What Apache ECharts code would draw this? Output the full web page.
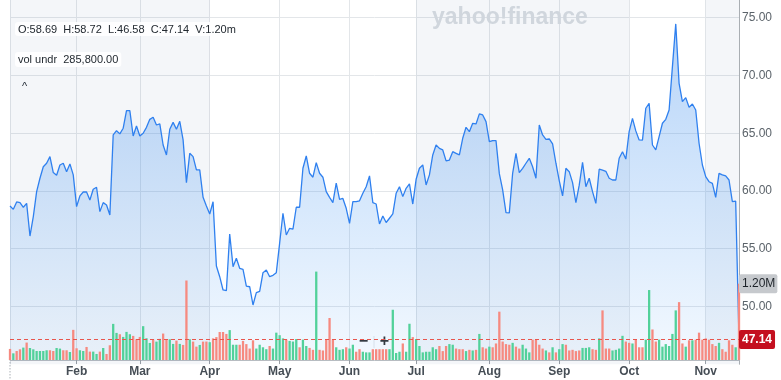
<!DOCTYPE html>
<html><head><meta charset="utf-8">
<script src="https://cdn.jsdelivr.net/npm/echarts@6/dist/echarts.min.js"></script>
<style>html,body{margin:0;padding:0;background:#fff}#c{width:781px;height:380px}</style>
</head><body><div id="c"></div>
<script>
// ---------------- data ----------------
const months = ['Jan','Feb','Mar','Apr','May','Jun','Jul','Aug','Sep','Oct','Nov'];
const tradingDaysPerMonth = [20,19,21,21,21,20,22,21,21,23,11];

const closeJan = [58.70,58.41,59.05,58.99,58.59,58.93,56.10,57.78,59.94,61.10,62.10,62.40,62.97,61.59,61.36,62.25,62.40,61.67,62.34,61.39];
const closeFeb = [58.64,59.57,59.91,59.91,59.22,60.15,60.32,58.21,58.99,58.79,57.92,64.85,65.22,64.94,65.43,66.95,66.95,64.76,65.63];
const closeMar = [64.76,65.00,65.51,66.20,66.38,65.71,65.80,63.98,63.12,65.34,65.94,65.34,66.03,64.42,60.72,63.26,62.97,61.82,61.82,59.45,58.70];
const closeApr = [58.01,59.07,53.51,52.58,51.43,51.37,56.28,53.45,54.17,53.31,53.22,51.77,51.71,50.13,51.20,51.30,52.93,53.16,52.58,52.70,52.93];
const closeMay = [55.47,58.07,56.19,56.77,56.70,58.59,58.59,61.97,63.03,61.53,61.19,62.45,61.53,61.19,59.94,59.45,58.99,60.67,59.28,59.35,58.50];
const closeJun = [57.20,59.07,59.07,59.15,59.80,60.37,61.30,58.99,58.87,57.14,57.84,57.27,57.64,58.01,59.80,60.37,59.51,60.23,60.61,58.87];
const closeJul = [61.01,61.97,62.25,60.52,61.39,63.12,63.98,63.69,63.55,62.60,62.68,63.40,63.26,63.12,64.56,65.51,65.13,65.86,65.80,66.67,66.58,66.00];
const closeAug = [64.27,64.36,64.36,61.50,60.09,58.12,58.10,61.53,63.26,61.59,61.96,62.40,62.83,62.10,61.10,65.71,64.85,64.47,64.50,64.07,62.40];
const closeSep = [60.90,59.57,61.96,61.67,60.72,58.99,60.50,62.48,60.37,61.10,59.94,58.93,61.88,61.80,61.70,61.10,60.95,60.95,62.83,63.40,62.76];
const closeOct = [65.13,66.29,65.20,64.42,64.40,67.16,67.59,63.98,63.55,64.70,65.86,66.20,67.01,70.76,74.46,69.32,67.73,68.08,67.25,67.53,67.01,64.13,62.25];
const closeNov = [61.24,60.80,60.66,59.45,61.53,61.39,61.30,60.95,59.07,59.13,47.14];

// volume in millions
const volJan = [0.174,0.105,0.142,0.168,0.195,0.274,0.189,0.168,0.142,0.142,0.142,0.153,0.153,0.142,0.189,0.179,0.153,0.153,0.126,0.474];
const volFeb = [0.184,0.153,0.142,0.205,0.132,0.132,0.095,0.132,0.189,0.095,0.232,0.568,0.426,0.405,0.363,0.442,0.405,0.379,0.326];
const volMar = [0.363,0.532,0.342,0.268,0.321,0.289,0.332,0.416,0.326,0.326,0.253,0.305,0.253,0.237,1.25,0.326,0.289,0.21,0.237,0.289,0.29];
const volApr = [0.28,0.34,0.36,0.44,0.44,0.41,0.47,0.24,0.24,0.24,0.30,0.25,0.18,0.31,0.18,0.24,0.20,0.17,0.22,0.18,0.43];
const volMay = [0.39,0.34,0.32,0.30,0.29,0.33,0.20,0.32,0.22,0.19,0.16,1.39,0.16,0.15,0.33,0.66,0.32,0.20,0.16,0.17,0.20];
const volJun = [0.18,0.24,0.13,0.17,0.13,0.12,0.12,0.17,0.17,0.17,0.17,0.17,0.17,0.79,0.11,0.13,0.26,0.13,0.57,0.36];
const volJul = [0.33,0.22,0.12,0.13,0.13,0.20,0.17,0.22,0.14,0.22,0.25,0.24,0.18,0.17,0.17,0.14,0.16,0.15,0.16,0.41,0.20,0.18];
const volAug = [0.21,0.20,0.26,0.76,0.29,0.25,0.24,0.27,0.21,0.18,0.24,0.18,0.12,0.32,0.32,0.24,0.18,0.15,0.12,0.20,0.12];
const volSep = [0.17,0.25,0.24,0.15,0.16,0.14,0.15,0.19,0.19,0.20,0.17,0.16,0.34,0.78,0.18,0.18,0.15,0.16,0.18,0.38,0.29];
const volOct = [0.27,0.26,0.33,0.20,0.20,0.32,1.10,0.48,0.29,0.32,0.21,0.25,0.22,0.41,0.78,0.91,0.26,0.21,0.31,0.31,0.32,0.43,0.32];
const volNov = [0.34,0.32,0.25,0.22,0.27,0.17,0.13,0.31,0.24,0.20,1.20];

// 1 = up day (green), 0 = down day (red)
const upJan = [0,1,0,0,1,0,1,1,1,1,1,1,0,0,1,1,0,0,1,0];
const upFeb = [0,1,1,0,0,1,1,0,1,0,0,1,1,0,1,1,1,0,0];
const upMar = [0,1,1,1,0,1,1,0,0,1,1,0,1,0,0,1,0,0,1,0,0];
const upApr = [1,0,0,0,0,0,1,1,1,0,0,0,0,0,1,1,1,1,0,1,1];
const upMay = [1,1,0,1,1,1,0,1,1,0,0,1,0,0,0,0,0,1,1,1,0];
const upJun = [1,1,0,0,1,1,1,0,0,0,0,0,1,1,1,1,0,1,1,0];
const upJul = [1,1,1,1,1,1,1,0,0,0,1,1,0,0,0,1,0,1,0,1,0,0];
const upAug = [1,0,0,0,0,0,0,1,0,0,1,1,1,0,0,0,0,1,0,1,0];
const upSep = [1,1,0,0,0,0,0,1,1,1,0,0,1,0,0,0,1,1,1,1,0];
const upOct = [0,1,0,0,0,1,1,0,0,1,1,1,1,1,1,0,0,1,0,1,0,0,0];
const upNov = [0,0,0,0,1,0,0,0,0,1,0];

const priceTicks = [50,55,60,65,70,75];
const lastClose = 47.14;
const lastVolumeM = 1.20;
const ohlcText = 'O:58.69  H:58.72  L:46.58  C:47.14  V:1.20m';
const studyText = 'vol undr  285,800.00';
const shadedRanges = [['Jan','Apr'],['Jul','Oct'],['Nov',null]];

// ---------------- build ----------------
const closePrices = [].concat(closeJan,closeFeb,closeMar,closeApr,closeMay,closeJun,closeJul,closeAug,closeSep,closeOct,closeNov);
const volumes = [].concat(volJan,volFeb,volMar,volApr,volMay,volJun,volJul,volAug,volSep,volOct,volNov);
const upDays = [].concat(upJan,upFeb,upMar,upApr,upMay,upJun,upJul,upAug,upSep,upOct,upNov);

const categories = [];
const monthStart = {};
months.forEach((m, mi) => {
  for (let d = 1; d <= tradingDaysPerMonth[mi]; d++) {
    if (d === 1) monthStart[categories.length] = m;
    categories.push(m + '-' + d);
  }
});
const isMonthStart = i => monthStart[i] !== undefined;
const lastCat = categories[categories.length - 1];

const GREEN = '#52d19a', RED = '#f68a80';
const FONT = '"Liberation Sans", Arial, Helvetica, sans-serif';

const tickStep = priceTicks[1] - priceTicks[0];
const pMin = priceTicks[0] - tickStep;     // 45, lies just below the bottom axis
const pMax = 76.53;                         // value at the top edge of the plot

const chart = echarts.init(document.getElementById('c'), null, {renderer: 'canvas'});
chart.setOption({
  animation: false,
  backgroundColor: '#ffffff',
  grid: [
    {left: 10, right: 42, top: 0, bottom: 15.74},
    {left: 10, right: 42, top: 42, bottom: 20}
  ],
  xAxis: [
    {type: 'category', gridIndex: 0, data: categories, boundaryGap: false,
     axisLine: {show: false}, axisTick: {show: false}, axisLabel: {show: false},
     splitLine: {show: true, interval: (i) => isMonthStart(i), lineStyle: {color: '#e3e6e9', width: 1}}},
    {type: 'category', gridIndex: 1, data: categories, boundaryGap: false,
     axisLine: {show: true, lineStyle: {color: '#b7bcc1'}},
     axisTick: {show: true, interval: (i) => i > 0 && isMonthStart(i), length: 4, lineStyle: {color: '#9aa0a6'}},
     axisLabel: {interval: (i) => i > 0 && isMonthStart(i), formatter: (v) => v.split('-')[0],
       color: '#464e56', fontSize: 12, fontWeight: 'bold', fontFamily: FONT, margin: 6},
     splitLine: {show: false}}
  ],
  yAxis: [
    {type: 'value', gridIndex: 0, position: 'right', min: pMin, max: pMax, interval: tickStep,
     axisLine: {show: true, lineStyle: {color: '#a9aeb3'}}, axisTick: {show: false},
     axisLabel: {formatter: (v) => v.toFixed(2), color: '#5b636a', fontSize: 12, fontFamily: FONT, margin: 3,
       showMinLabel: false, showMaxLabel: false},
     splitLine: {show: true, showMinLine: false, showMaxLine: false, lineStyle: {color: '#e3e6e9', width: 1}}},
    {type: 'value', gridIndex: 1, min: 0, max: 5, show: false}
  ],
  graphic: [
    {type: 'text', left: 432, top: 6, z: 1, silent: true,
     style: {text: 'yahoo!finance', font: 'bold 23px ' + FONT, fill: '#dadee2'}},
    {type: 'text', left: 15, top: 22, z: 10,
     style: {text: ohlcText, font: '11px ' + FONT, fill: '#232a31',
       backgroundColor: 'rgba(255,255,255,0.88)', padding: [2, 3, 1, 3], borderRadius: 3}},
    {type: 'text', left: 15, top: 52, z: 10,
     style: {text: studyText, font: '11px ' + FONT, fill: '#232a31',
       backgroundColor: 'rgba(255,255,255,0.88)', padding: [2, 3, 2, 3], borderRadius: 3}},
    {type: 'group', left: 15, top: 76, z: 10, children: [
      {type: 'rect', shape: {x: 0, y: 0, width: 19, height: 20, r: 3}, style: {fill: 'rgba(255,255,255,0.88)'}},
      {type: 'text', x: 9.5, y: 11, style: {text: '^', font: '11px ' + FONT, fill: '#232a31', align: 'center', verticalAlign: 'middle'}}
    ]},
    {type: 'group', left: 353, top: 333, z: 10, children: [
      {type: 'rect', shape: {x: 0, y: 0, width: 42, height: 18, r: 3}, style: {fill: 'rgba(255,255,255,0.85)'}},
      {type: 'line', shape: {x1: 21, y1: 3, x2: 21, y2: 15}, style: {stroke: '#e3e6e9'}},
      {type: 'text', x: 10.5, y: 9, style: {text: '\u2212', font: 'bold 16px ' + FONT, fill: '#333', align: 'center', verticalAlign: 'middle'}},
      {type: 'text', x: 31.5, y: 9, style: {text: '+', font: 'bold 16px ' + FONT, fill: '#333', align: 'center', verticalAlign: 'middle'}}
    ]},
    {type: 'line', z: 10, shape: {x1: 10, y1: 362, x2: 10, y2: 379}, style: {stroke: '#aab0b6', lineDash: [1.5, 1.5]}}
  ],
  series: [
    {name: 'price', type: 'line', xAxisIndex: 0, yAxisIndex: 0, data: closePrices, z: 2,
     showSymbol: false, symbol: 'none', silent: true,
     lineStyle: {color: '#2f80ef', width: 1.3},
     areaStyle: {origin: 45.37, color: new echarts.graphic.LinearGradient(0, 0, 0, 1, [
       {offset: 0, color: 'rgba(55,135,235,0.52)'},
       {offset: 1, color: 'rgba(60,150,245,0.09)'}])},
     markArea: {silent: true, itemStyle: {color: 'rgba(40,80,140,0.05)'},
       data: shadedRanges.map(r => [{xAxis: r[0] + '-1'}, {xAxis: r[1] ? r[1] + '-1' : lastCat}])}},
    {name: 'volume', type: 'bar', xAxisIndex: 1, yAxisIndex: 1, z: 3, barWidth: 2.3, silent: true,
     data: volumes.map((v, i) => ({value: v, itemStyle: {color: upDays[i] ? GREEN : RED}})),
     markLine: {silent: true, symbol: ['none', 'none'], lineStyle: {color: 'rgba(0,0,0,0)', width: 1},
       label: {show: true, position: 'end', distance: 0, formatter: lastVolumeM.toFixed(2) + 'M',
         backgroundColor: '#c6c9cd', color: '#1d2228', fontSize: 12, fontFamily: FONT, padding: [4, 2, 3, 3], borderRadius: 2},
       data: [{yAxis: lastVolumeM}]}},
    {name: 'lastClose', type: 'line', xAxisIndex: 0, yAxisIndex: 0, z: 5, data: closePrices,
     showSymbol: false, symbol: 'none', silent: true, lineStyle: {opacity: 0, width: 0},
     markLine: {silent: true, symbol: ['none', 'none'],
       lineStyle: {type: [4, 3], color: '#e8554d', width: 1},
       label: {show: true, position: 'end', distance: 0, formatter: lastClose.toFixed(2),
         backgroundColor: '#c40f1f', color: '#ffffff', fontWeight: 'bold', fontSize: 12, fontFamily: FONT,
         padding: [4, 3, 3, 3], borderRadius: 2},
       data: [{yAxis: lastClose}]}}
  ]
});
</script></body></html>
